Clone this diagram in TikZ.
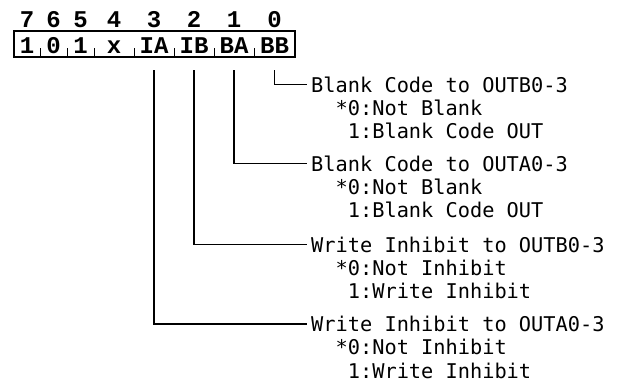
\documentclass[tikz,border=0pt]{standalone}
\usepackage{fontspec}
\newfontfamily\regfont{Liberation Mono}
\newfontfamily\txtfont{DejaVu Sans Mono}
\begin{document}
\begin{tikzpicture}[x=1pt,y=1pt,
  cell/.style={inner sep=0pt, anchor=base, text height=22pt, text depth=4pt, font=\regfont\bfseries\fontsize{24}{24}\selectfont},
  hdr/.style={inner sep=0pt, anchor=base, font=\regfont\bfseries\fontsize{24}{24}\selectfont},
  ttl/.style={anchor=base west, inner xsep=4pt, inner ysep=0pt, font=\txtfont\fontsize{20.3}{23.3}\selectfont},
  sub/.style={anchor=base west, inner sep=0pt, font=\txtfont\fontsize{20.3}{23.3}\selectfont},
  conn/.style={line width=1.6pt},
  frame/.style={line width=1.6pt},
  tick/.style={line width=1.3pt}]
\useasboundingbox (0,0) rectangle (617,-383);
% register cells
\node[cell, minimum width=26pt] (b7) at (27,-53) {1};
\node[cell, minimum width=27pt] (b6) at (53.5,-53) {0};
\node[cell, minimum width=27pt] (b5) at (80.5,-53) {1};
\node[cell, minimum width=40pt] (b4) at (114,-53) {x};
\node[cell, minimum width=40pt] (b3) at (154,-53) {IA};
\node[cell, minimum width=40pt] (b2) at (194,-53) {IB};
\node[cell, minimum width=40pt] (b1) at (234,-53) {BA};
\node[cell, minimum width=41pt] (b0) at (274.5,-53) {BB};
\draw[frame] (b7.north west) rectangle (b0.south east);
\foreach \c in {b7,b6,b5,b4,b3,b2,b1}
  \draw[tick] (\c.south east) -- ++(0,9);
% header
\coordinate (hy) at (0,-27);
\foreach \c/\t in {b7/7,b6/6,b5/5,b4/4,b3/3,b2/2,b1/1,b0/0}
  \node[hdr] (h\t) at (\c |- hy) {\t};
% descriptions
\node[ttl] (t0) at (307,-92) {Blank Code to OUTB0-3};
\node[sub] (s0a) at (311,-115.3) {\hphantom{xx}*0:Not Blank};
\node[sub] (s0b) at (311,-138.6) {\hphantom{xxx}1:Blank Code OUT};
\node[ttl] (t1) at (307,-171) {Blank Code to OUTA0-3};
\node[sub] (s1a) at (311,-194.3) {\hphantom{xx}*0:Not Blank};
\node[sub] (s1b) at (311,-217.6) {\hphantom{xxx}1:Blank Code OUT};
\node[ttl] (t2) at (307,-252) {Write Inhibit to OUTB0-3};
\node[sub] (s2a) at (311,-275.3) {\hphantom{xx}*0:Not Inhibit};
\node[sub] (s2b) at (311,-298.6) {\hphantom{xxx}1:Write Inhibit};
\node[ttl] (t3) at (307,-331.5) {Write Inhibit to OUTA0-3};
\node[sub] (s3a) at (311,-354.8) {\hphantom{xx}*0:Not Inhibit};
\node[sub] (s3b) at (311,-378.1) {\hphantom{xxx}1:Write Inhibit};
% connectors
\draw[conn] ([yshift=-13pt]b0.south) |- (t0.west);
\draw[conn] ([yshift=-13pt]b1.south) |- (t1.west);
\draw[conn] ([yshift=-13pt]b2.south) |- (t2.west);
\draw[conn] ([yshift=-13pt]b3.south) |- (t3.west);
\end{tikzpicture}
\end{document}
